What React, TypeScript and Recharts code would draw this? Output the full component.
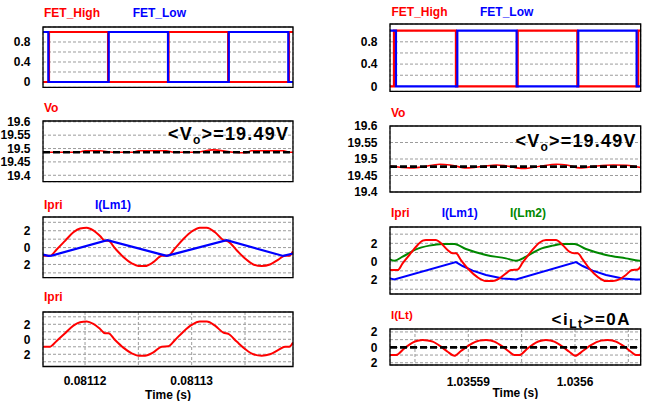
import React from 'react';
import { LineChart, Line, XAxis, YAxis, CartesianGrid, ReferenceArea, ReferenceLine } from 'recharts';

type P = [number, number];

// ---------- axes (time in µs offsets) ----------
const leftTimeTicks = [20, 25, 30, 35];
const leftTimeLabels = ['0.08112', '', '0.08113', ''];
const rightTimeTicks = [5, 10, 15, 20, 25];
const rightTimeLabels = ['', '1.03559', '', '1.0356', ''];

const fetTicks = [0, 0.2, 0.4, 0.6, 0.8, 1];
const fetTickLabels = ['0', '', '0.4', '', '0.8', ''];
const voTicks = [19.4, 19.45, 19.5, 19.55, 19.6];
const voTickLabels = ['19.4', '19.45', '19.5', '19.55', '19.6'];
const curTicks = [-3, -2, -1, 0, 1, 2, 3];
const curTickLabels = ['', '2', '', '0', '', '2', ''];
const iltTicks = [-2, -1, 0, 1, 2];
const iltTickLabels = ['2', '', '0', '', '2'];

// ---------- left column data ----------
const leftFetHigh: P[] = [[16.06, 0], [16.62, 0], [16.62, 1], [22.16, 1], [22.16, 0], [27.83, 0], [27.83, 1], [33.42, 1], [33.42, 0], [39.12, 0], [39.12, 1], [39.5, 1]];
const leftFetLow: P[] = [[16.06, 1], [16.56, 1], [16.56, 0], [22.22, 0], [22.22, 1], [27.78, 1], [27.78, 0], [33.48, 0], [33.48, 1], [39.06, 1], [39.06, 0], [39.5, 0]];
const leftVo: P[] = [[16.06, 19.486], [19.4, 19.486], [20.0, 19.4915], [21.4, 19.4915], [22.6, 19.486], [24.5, 19.486], [25.0, 19.4915], [27.6, 19.4915], [28.3, 19.486], [30.4, 19.486], [32.0, 19.495], [33.9, 19.486], [35.1, 19.484], [35.6, 19.4915], [38.6, 19.4915], [39.2, 19.486], [39.5, 19.486]];
const leftVoAvg = 19.486;
const leftIpri: P[] = [[16.06, -0.98], [16.72, -0.98], [17.34, -0.22], [18.13, 0.8], [18.91, 1.82], [19.53, 2.27], [20.16, 2.36], [20.78, 2.04], [21.41, 1.38], [21.88, 0.8], [22.19, 0.8], [22.81, -0.09], [23.59, -1.11], [24.38, -1.87], [25.0, -2.18], [25.63, -2.18], [26.41, -1.73], [27.19, -0.98], [27.81, -0.93], [28.44, -0.09], [29.22, 1.02], [30.0, 1.91], [30.78, 2.36], [31.41, 2.36], [32.19, 1.82], [32.97, 0.89], [33.44, 0.71], [34.22, -0.31], [35.0, -1.29], [35.78, -2.0], [36.56, -2.18], [37.34, -2.0], [38.13, -1.42], [38.75, -0.98], [39.16, -0.98], [39.5, -0.44]];
const leftLm1: P[] = [[16.06, -0.83], [16.56, -0.99], [16.88, -0.95], [22.09, 0.87], [27.66, -0.99], [33.28, 0.87], [38.59, -0.99], [39.5, -0.7]];

// ---------- right column data ----------
const rightFetHigh: P[] = [[2.66, 0], [3.03, 0], [3.03, 1], [8.84, 1], [8.84, 0], [14.63, 0], [14.63, 1], [20.22, 1], [20.22, 0], [25.93, 0], [25.93, 1], [26.16, 1]];
const rightFetLow: P[] = [[2.66, 1], [3.22, 1], [3.22, 0], [8.97, 0], [8.97, 1], [14.53, 1], [14.53, 0], [20.31, 0], [20.31, 1], [25.78, 1], [25.78, 0], [26.16, 0]];
const rightVo: P[] = [[2.66, 19.479], [4.53, 19.473], [5.47, 19.475], [7.34, 19.484], [8.28, 19.482], [9.84, 19.473], [11.4, 19.478], [12.66, 19.482], [13.6, 19.479], [15.16, 19.471], [16.72, 19.478], [18.28, 19.484], [19.22, 19.482], [20.47, 19.473], [22.03, 19.479], [23.59, 19.482], [24.84, 19.481], [26.16, 19.474]];
const rightVoAvg = 19.477;
const rightIpri: P[] = [[2.66, -0.91], [3.38, -0.91], [3.84, -0.18], [4.47, 0.73], [5.25, 1.82], [5.72, 2.29], [6.03, 2.36], [6.97, 2.36], [7.44, 2.0], [8.06, 1.27], [8.53, 0.91], [8.84, 0.91], [9.31, 0.18], [10.09, -0.91], [10.88, -1.71], [11.66, -2.11], [12.28, -2.11], [12.91, -1.82], [13.53, -1.27], [14.0, -0.91], [14.63, -0.84], [15.09, -0.11], [15.88, 1.09], [16.66, 2.07], [17.28, 2.36], [18.22, 2.36], [18.84, 1.82], [19.47, 1.09], [19.94, 0.91], [20.25, 0.91], [20.72, 0.25], [21.34, -0.73], [22.13, -1.64], [22.91, -2.11], [23.53, -2.11], [24.16, -1.93], [24.78, -1.45], [25.34, -0.91], [25.88, -0.84], [26.16, -0.55]];
const rightLm1: P[] = [[2.66, -1.82], [3.06, -1.93], [8.84, -0.05], [9.47, -0.47], [10.41, -0.98], [11.66, -1.45], [13.22, -1.82], [14.47, -1.93], [20.1, -0.05], [20.72, -0.47], [21.66, -0.98], [22.91, -1.45], [24.47, -1.82], [25.72, -1.93], [26.16, -1.93]];
const rightLm2: P[] = [[2.66, 0.25], [3.06, 0.11], [3.84, 0.55], [5.09, 1.35], [6.34, 1.75], [7.59, 1.93], [8.69, 1.93], [9.78, 1.38], [11.66, 0.73], [13.53, 0.36], [14.47, 0.11], [15.41, 0.55], [16.66, 1.35], [17.91, 1.75], [18.84, 1.93], [19.94, 1.93], [21.03, 1.38], [22.91, 0.73], [24.78, 0.36], [26.03, 0.11], [26.16, 0.11]];
const rightIlt: P[] = [[2.66, -1.0], [3.22, -1.0], [4.0, -0.13], [4.78, 0.61], [5.25, 0.85], [5.72, 0.96], [6.19, 0.9], [6.66, 0.74], [7.44, 0.09], [8.06, -0.57], [8.69, -1.09], [9.31, -0.48], [10.09, 0.3], [11.03, 0.87], [11.66, 0.96], [12.1, 0.9], [12.44, 0.74], [13.22, 0.09], [13.84, -0.57], [14.31, -1.0], [14.78, -1.0], [15.56, -0.13], [16.34, 0.61], [16.8, 0.85], [17.28, 0.96], [17.7, 0.9], [18.06, 0.74], [18.84, 0.09], [19.47, -0.57], [20.03, -1.09], [20.72, -0.48], [21.5, 0.3], [22.44, 0.87], [23.06, 0.96], [23.5, 0.9], [23.84, 0.74], [24.63, 0.09], [25.25, -0.57], [25.72, -1.0], [26.1, -1.0], [26.16, -0.85]];
const rightIltAvg = 0;

const RED = '#ff0000';
const BLUE = '#0000ff';
const GREEN = '#008800';
const FONT = '"Liberation Sans", Arial, Helvetica, sans-serif';

const pts = (a: P[]) => a.map(([t, v]) => ({ t, v }));

type Box = { x: number; y: number; w: number; h: number };

function Panel(props: {
  box: Box;
  xDomain: [number, number];
  yDomain: [number, number];
  xTicks: number[];
  xLabels: string[];
  yTicks: number[];
  yLabels: string[];
  showX: boolean;
  xTickMargin?: number;
  xLabelOffset?: number;
  children?: React.ReactNode;
}) {
  const { box, xDomain, yDomain, xTicks, xLabels, yTicks, yLabels, showX } = props;
  const L = 43, T = 10, R = 4;
  const xh = showX ? 34 : 0;
  const B = showX ? 0 : 10;
  const width = L + box.w + R;
  const height = T + box.h + xh + B;
  const tickStyle = { fontSize: 12, fontWeight: 700, fill: '#000', fontFamily: FONT };
  return (
    <div style={{ position: 'absolute', left: box.x - L, top: box.y - T }}>
      <LineChart width={width} height={height} margin={{ top: T, right: R, left: 0, bottom: B }}>
        <CartesianGrid stroke="#9b9b9b" strokeDasharray="3 2" strokeWidth={1} />
        <XAxis
          type="number"
          dataKey="t"
          domain={xDomain}
          allowDataOverflow
          ticks={xTicks}
          interval={0}
          height={xh}
          axisLine={false}
          tickLine={false}
          tickSize={0}
          tickMargin={props.xTickMargin ?? 10}
          tick={showX ? tickStyle : false}
          tickFormatter={(v: number) => xLabels[xTicks.indexOf(v)] ?? ''}
          label={showX ? { value: 'Time (s)', position: 'insideBottom', offset: props.xLabelOffset ?? 1.5, style: { fontSize: 12, fontWeight: 700, fill: '#000', fontFamily: FONT } } : undefined}
        />
        <YAxis
          type="number"
          domain={yDomain}
          allowDataOverflow
          ticks={yTicks}
          interval={0}
          width={L}
          axisLine={false}
          tickLine={false}
          tickSize={0}
          tickMargin={12.5}
          tick={tickStyle}
          tickFormatter={(v: number) => yLabels[yTicks.indexOf(v)] ?? ''}
        />
        {props.children}
        <ReferenceArea
          x1={xDomain[0]}
          x2={xDomain[1]}
          y1={yDomain[0]}
          y2={yDomain[1]}
          fill="none"
          fillOpacity={0}
          stroke="#000"
          strokeWidth={1.3}
          ifOverflow="visible"
          zIndex={700}
        />
      </LineChart>
    </div>
  );
}

const series = (data: P[], color: string, width: number, type: 'linear' | 'monotone' = 'linear') => (
  <Line
    data={pts(data)}
    dataKey="v"
    type={type}
    stroke={color}
    strokeWidth={width}
    dot={false}
    activeDot={false}
    isAnimationActive={false}
    legendType="none"
  />
);

const avgLine = (y: number) => (
  <ReferenceLine y={y} stroke="#000" strokeWidth={2.6} strokeDasharray="7 3" ifOverflow="visible" zIndex={650} />
);

const LX: [number, number] = [16.06, 39.5];
const RX: [number, number] = [2.66, 26.16];

export default function App() {
  return (
    <div style={{ position: 'absolute', left: 0, top: 0, width: 651, height: 405, background: '#fff', fontFamily: FONT }}>
      {/* Left column */}
      <Panel box={{ x: 43, y: 26.7, w: 250, h: 60.3 }} xDomain={LX} yDomain={[-0.106, 1.1]} xTicks={leftTimeTicks} xLabels={leftTimeLabels} yTicks={fetTicks} yLabels={fetTickLabels} showX={false}>
        {series(leftFetHigh, RED, 2.2)}
        {series(leftFetLow, BLUE, 2.2)}
      </Panel>
      <Panel box={{ x: 43, y: 121, w: 250, h: 60.7 }} xDomain={LX} yDomain={[19.376, 19.603]} xTicks={leftTimeTicks} xLabels={leftTimeLabels} yTicks={voTicks} yLabels={voTickLabels} showX={false}>
        {series(leftVo, RED, 1.6, 'monotone')}
        {avgLine(leftVoAvg)}
      </Panel>
      <Panel box={{ x: 43, y: 216.7, w: 250, h: 60.6 }} xDomain={LX} yDomain={[-3.56, 3.63]} xTicks={leftTimeTicks} xLabels={leftTimeLabels} yTicks={curTicks} yLabels={curTickLabels} showX={false}>
        {series(leftIpri, RED, 2, 'monotone')}
        {series(leftLm1, BLUE, 2.2)}
      </Panel>
      <Panel box={{ x: 43, y: 312, w: 250, h: 54.5 }} xDomain={LX} yDomain={[-3.63, 3.64]} xTicks={leftTimeTicks} xLabels={leftTimeLabels} yTicks={curTicks} yLabels={curTickLabels} showX={true} xTickMargin={9.5} xLabelOffset={1.5}>
        {series(leftIpri, RED, 2, 'monotone')}
      </Panel>

      {/* Right column */}
      <Panel box={{ x: 390, y: 24.3, w: 250.7, h: 67.4 }} xDomain={RX} yDomain={[-0.09, 1.12]} xTicks={rightTimeTicks} xLabels={rightTimeLabels} yTicks={fetTicks} yLabels={fetTickLabels} showX={false}>
        {series(rightFetHigh, RED, 2.2)}
        {series(rightFetLow, BLUE, 2.2)}
      </Panel>
      <Panel box={{ x: 390, y: 126, w: 250.7, h: 66 }} xDomain={RX} yDomain={[19.4, 19.6]} xTicks={rightTimeTicks} xLabels={rightTimeLabels} yTicks={voTicks} yLabels={voTickLabels} showX={false}>
        {series(rightVo, RED, 1.6, 'monotone')}
        {avgLine(rightVoAvg)}
      </Panel>
      <Panel box={{ x: 390, y: 227, w: 250.7, h: 67 }} xDomain={RX} yDomain={[-3.52, 3.78]} xTicks={rightTimeTicks} xLabels={rightTimeLabels} yTicks={curTicks} yLabels={curTickLabels} showX={false}>
        {series(rightLm2, GREEN, 2, 'monotone')}
        {series(rightLm1, BLUE, 2)}
        {series(rightIpri, RED, 2, 'monotone')}
      </Panel>
      <Panel box={{ x: 390, y: 329, w: 250.7, h: 36 }} xDomain={RX} yDomain={[-2.29, 2.38]} xTicks={rightTimeTicks} xLabels={rightTimeLabels} yTicks={iltTicks} yLabels={iltTickLabels} showX={true} xTickMargin={12} xLabelOffset={1.5}>
        {series(rightIlt, RED, 2, 'monotone')}
        {avgLine(rightIltAvg)}
      </Panel>

      {/* Titles and annotations */}
      <svg width={651} height={405} style={{ position: 'absolute', left: 0, top: 0, pointerEvents: 'none' }} fontFamily={FONT} fontWeight="bold">
        <text x={44} y={16.7} fill={RED} fontSize={12}>FET_High</text>
        <text x={132.7} y={16.7} fill={BLUE} fontSize={12}>FET_Low</text>
        <text x={44} y={111.7} fill={RED} fontSize={12}>Vo</text>
        <text x={44} y={208.7} fill={RED} fontSize={12}>Ipri</text>
        <text x={95} y={208.7} fill={BLUE} fontSize={12}>I(Lm1)</text>
        <text x={44} y={300.7} fill={RED} fontSize={12}>Ipri</text>

        <text x={391.5} y={15.7} fill={RED} fontSize={12}>FET_High</text>
        <text x={480} y={15.7} fill={BLUE} fontSize={12}>FET_Low</text>
        <text x={391} y={117.3} fill={RED} fontSize={12}>Vo</text>
        <text x={391} y={217.3} fill={RED} fontSize={12}>Ipri</text>
        <text x={441.7} y={217.3} fill={BLUE} fontSize={12}>I(Lm1)</text>
        <text x={510} y={217.3} fill={GREEN} fontSize={12}>I(Lm2)</text>
        <text x={391} y={319} fill={RED} fontSize={11.5}>I(Lt)</text>

        <text x={168} y={140} fill="#000" fontSize={18} letterSpacing={1.2}>
          &lt;V<tspan dy={4} fontSize={12}>o</tspan><tspan dy={-4}>&gt;=19.49V</tspan>
        </text>
        <text x={515.5} y={146.5} fill="#000" fontSize={18} letterSpacing={1.2}>
          &lt;V<tspan dy={4} fontSize={12}>o</tspan><tspan dy={-4}>&gt;=19.49V</tspan>
        </text>
        <text x={551.5} y={325} fill="#000" fontSize={17} letterSpacing={1.5}>
          &lt;i<tspan dy={3} fontSize={12}>Lt</tspan><tspan dy={-3}>&gt;=0A</tspan>
        </text>
      </svg>
    </div>
  );
}
